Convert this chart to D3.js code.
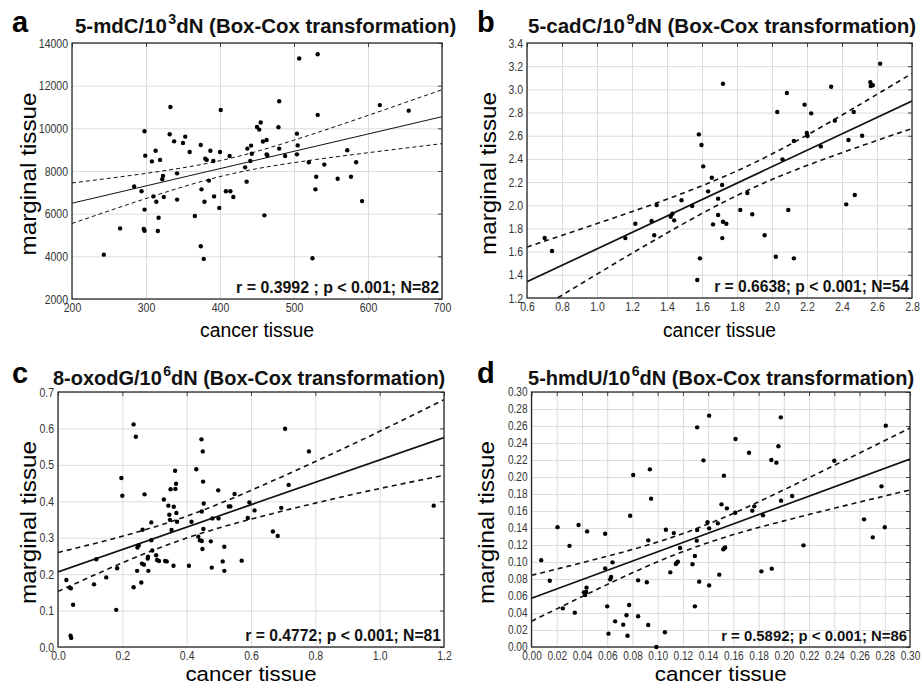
<!DOCTYPE html>
<html><head><meta charset="utf-8">
<script src="https://cdn.jsdelivr.net/npm/d3@7"></script>
<style>body{margin:0;background:#fff} svg{display:block}</style>
</head><body>
<svg id="chart" width="922" height="688"></svg>
<script>
// ---------- DATA ----------
// [cancer tissue, marginal tissue]
const aPoints = [[243,4080],[265,5310],[284,7270],[294,7050],[298,9860],[299,8720],[298,6190],[297,5280],[298,5200],[308,8450],
[310,6810],[313,8950],[314,6560],[319,8520],[317,5810],[316,5190],[323,7770],[322,7610],[324,6780],[333,11000],
[332,9720],[338,9390],[342,7890],[342,6660],[350,9310],[353,9610],[359,8890],[366,5890],[374,9220],[375,7140],
[374,4470],[378,3880],[379,6560],[380,8580],[382,8520],[385,7550],[387,8950],[391,8470],[392,6810],[399,6270],
[400,8890],[401,10860],[408,7050],[413,8700],[414,7050],[418,6780],[434,8170],[436,7500],[437,9050],[442,9190],
[443,8810],[441,8470],[450,10060],[453,9940],[455,10270],[458,9380],[463,9450],[463,8780],[464,8730],[460,5920],
[480,11270],[479,10050],[480,9050],[488,8700],[504,9750],[505,9200],[504,8780],[507,13270],[532,13470],[532,10630],
[520,8410],[530,7730],[529,7140],[525,3910],[541,8300],[559,7640],[572,8970],[577,7730],[584,8410],[592,6590],
[616,11090],[655,10830]];
const bPoints = [[0.701,1.718],[0.743,1.605],[1.162,1.717],[1.219,1.841],[1.312,1.864],[1.327,1.741],[1.341,2.002],[1.421,1.900],[1.431,1.927],[1.441,1.870],
[1.483,2.043],[1.544,1.994],[1.582,2.612],[1.597,2.520],[1.607,2.336],[1.635,2.120],[1.588,1.542],[1.573,1.355],[1.720,3.049],[1.656,2.238],
[1.715,2.175],[1.692,2.057],[1.692,1.916],[1.663,1.835],[1.720,1.858],[1.739,1.841],[1.716,1.717],[1.819,1.959],[1.859,2.106],[1.887,1.922],
[1.958,1.741],[2.022,1.556],[2.030,2.805],[2.060,2.396],[2.085,2.969],[2.093,1.959],[2.125,1.542],[2.125,2.554],[2.186,2.868],[2.199,2.623],
[2.203,2.598],[2.224,2.793],[2.279,2.508],[2.338,3.023],[2.359,2.730],[2.424,2.008],[2.437,2.563],[2.467,2.805],[2.473,2.089],[2.515,2.600],
[2.562,3.061],[2.564,3.029],[2.576,3.035],[2.618,3.222]];
const cPoints = [[0.026,0.184],[0.036,0.163],[0.040,0.161],[0.047,0.116],[0.039,0.031],[0.041,0.025],[0.112,0.172],[0.119,0.241],[0.150,0.191],[0.181,0.102],
[0.184,0.216],[0.197,0.464],[0.200,0.415],[0.235,0.611],[0.242,0.577],[0.235,0.164],[0.246,0.209],[0.247,0.273],[0.251,0.279],[0.259,0.177],
[0.261,0.229],[0.263,0.322],[0.267,0.226],[0.269,0.419],[0.279,0.243],[0.280,0.248],[0.281,0.209],[0.290,0.342],[0.290,0.293],[0.293,0.265],
[0.305,0.252],[0.308,0.239],[0.314,0.236],[0.329,0.405],[0.333,0.236],[0.338,0.235],[0.343,0.388],[0.346,0.363],[0.348,0.349],[0.350,0.433],
[0.353,0.321],[0.360,0.385],[0.359,0.223],[0.364,0.484],[0.365,0.434],[0.367,0.448],[0.368,0.368],[0.370,0.344],[0.407,0.223],[0.415,0.344],
[0.430,0.488],[0.436,0.303],[0.441,0.293],[0.446,0.570],[0.447,0.291],[0.447,0.372],[0.449,0.269],[0.450,0.537],[0.451,0.454],[0.452,0.324],
[0.453,0.394],[0.475,0.290],[0.478,0.218],[0.480,0.353],[0.498,0.430],[0.499,0.353],[0.512,0.235],[0.517,0.275],[0.517,0.209],[0.531,0.386],
[0.536,0.386],[0.549,0.420],[0.571,0.237],[0.590,0.354],[0.595,0.397],[0.611,0.375],[0.668,0.317],[0.683,0.305],[0.694,0.382],[0.706,0.599],
[0.717,0.445],[0.780,0.537],[1.168,0.388]];
const dPoints = [[0.0077,0.102],[0.0145,0.078],[0.0206,0.141],[0.0248,0.0455],[0.0301,0.119],[0.0343,0.0404],[0.0373,0.1435],[0.0415,0.0643],[0.0425,0.0612],[0.0433,0.0647],
[0.0436,0.0698],[0.0441,0.136],[0.0584,0.1333],[0.0584,0.0925],[0.0600,0.0478],[0.0610,0.0157],[0.0623,0.0796],[0.0631,0.0824],[0.0642,0.0996],[0.0663,0.0302],
[0.0727,0.0263],[0.0753,0.0373],[0.0761,0.0133],[0.0774,0.0494],[0.0782,0.1545],[0.0806,0.2024],[0.0845,0.0784],[0.0845,0.0361],[0.0914,0.0761],[0.0925,0.1255],
[0.0925,0.0259],[0.0938,0.209],[0.0948,0.1745],[0.0990,0.0],[0.1057,0.0173],[0.1065,0.138],[0.1100,0.0878],[0.1128,0.134],[0.1144,0.0976],[0.1152,0.0992],
[0.1160,0.1004],[0.1178,0.1165],[0.1276,0.0973],[0.1295,0.107],[0.1295,0.0478],[0.1313,0.1376],[0.1310,0.1251],[0.1313,0.2584],[0.1329,0.0769],[0.1363,0.2196],
[0.1395,0.1467],[0.1408,0.1396],[0.1408,0.0725],[0.1408,0.2722],[0.1488,0.0851],[0.1506,0.1678],[0.1520,0.1149],[0.1525,0.2016],[0.1530,0.1165],[0.1535,0.117],
[0.1549,0.1631],[0.1477,0.1455],[0.1617,0.2447],[0.1615,0.158],[0.1724,0.2286],[0.1750,0.1604],[0.1766,0.1655],[0.1822,0.089],[0.1835,0.1549],[0.1904,0.0922],
[0.1901,0.220],[0.1941,0.2169],[0.1957,0.2361],[0.1976,0.2702],[0.1978,0.1722],[0.2066,0.1776],[0.2156,0.1196],[0.2400,0.2192],[0.2636,0.1502],[0.2705,0.129],
[0.2774,0.189],[0.2800,0.1408],[0.2808,0.2604]];

// regression lines and confidence bands
const aLineX = [200,700], aLineY = [6490,10545];
const aBandX = [200,250,300,350,400,450,500,550,600,650,700];
const aUpper = [7440,7658,7889,8152,8482,8921,9447,10016,10604,11205,11809];
const aLower = [5540,6132,6711,7258,7738,8109,8393,8634,8856,9071,9281];
const bLineX = [0.6,2.8], bLineY = [1.34,2.90];
const bBandX = [0.6,1.0,1.4,1.8,2.2,2.6,2.8];
const bUpper = [1.640,1.842,2.053,2.297,2.605,2.957,3.138];
const bLower = [1.040,1.406,1.761,2.085,2.343,2.559,2.662];
const cLineX = [0,1.2], cLineY = [0.206,0.575];
const cBandX = [0,0.2,0.4,0.6,0.8,1.0,1.2];
const cUpper = [0.2595,0.304,0.359,0.430,0.509,0.592,0.679];
const cLower = [0.1525,0.231,0.299,0.351,0.395,0.435,0.471];
const dLineX = [0,0.3], dLineY = [0.0573,0.2212];
const dBandX = [0,0.05,0.10,0.15,0.20,0.25,0.30];
const dUpper = [0.0843,0.1029,0.1235,0.1508,0.1849,0.2209,0.2576];
const dLower = [0.0303,0.0664,0.1003,0.1276,0.1484,0.1669,0.1848];

// tick labels
const aXTicks = [200,300,400,500,600,700];
const aYTicks = [2000,4000,6000,8000,10000,12000,14000];
const bXTicks = [0.6,0.8,1.0,1.2,1.4,1.6,1.8,2.0,2.2,2.4,2.6,2.8];
const bYTicks = [1.2,1.4,1.6,1.8,2.0,2.2,2.4,2.6,2.8,3.0,3.2,3.4];
const cXTicks = [0.0,0.2,0.4,0.6,0.8,1.0,1.2];
const cYTicks = [0.0,0.1,0.2,0.3,0.4,0.5,0.6,0.7];
const dXTicks = [0.00,0.02,0.04,0.06,0.08,0.10,0.12,0.14,0.16,0.18,0.20,0.22,0.24,0.26,0.28,0.30];
const dYTicks = [0.00,0.02,0.04,0.06,0.08,0.10,0.12,0.14,0.16,0.18,0.20,0.22,0.24,0.26,0.28,0.30];

// texts
const titles = [["5-mdC/10","3","dN (Box-Cox transformation)"],["5-cadC/10","9","dN (Box-Cox transformation)"],
                ["8-oxodG/10","6","dN (Box-Cox transformation)"],["5-hmdU/10","6","dN (Box-Cox transformation)"]];
const stats = ["r = 0.3992 ; p < 0.001; N=82","r = 0.6638; p < 0.001; N=54","r = 0.4772; p < 0.001; N=81","r = 0.5892; p < 0.001; N=86"];
const letters = ["a","b","c","d"];
const xTitle = "cancer tissue", yTitle = "marginal tissue";

// ---------- LAYOUT ----------
const SANS = "'Liberation Sans', Arial, Helvetica, sans-serif";
const svg = d3.select("#chart");
const defs = svg.append("defs");

const panels = [
 {pts:aPoints, lx:aLineX, ly:aLineY, bx:aBandX, up:aUpper, lo:aLower, xt:aXTicks, yt:aYTicks, fx:d3.format("d"), fy:d3.format("d"),
  L:72, R:442, T:43, B:299, thin:true, titleX:75, titleW:380, titleY:33, letterX:12, letterY:32, yLabX:36, xLabY:337, xLabW:114, xLabFs:20, tickFs:12.5},
 {pts:bPoints, lx:bLineX, ly:bLineY, bx:bBandX, up:bUpper, lo:bLower, xt:bXTicks, yt:bYTicks, fx:d3.format(".1f"), fy:d3.format(".1f"),
  L:527, R:912, T:43, B:298, thin:false, titleX:528, titleW:387, titleY:33, letterX:477, letterY:32, yLabX:496, xLabY:337, xLabW:113, xLabFs:20, tickFs:12.5},
 {pts:cPoints, lx:cLineX, ly:cLineY, bx:cBandX, up:cUpper, lo:cLower, xt:cXTicks, yt:cYTicks, fx:d3.format(".1f"), fy:d3.format(".1f"),
  L:58, R:444, T:392, B:647, thin:false, titleX:53, titleW:391, titleY:385, letterX:12, letterY:383, yLabX:36, xLabY:681, xLabW:131, xLabFs:20.5, tickFs:12.5},
 {pts:dPoints, lx:dLineX, ly:dLineY, bx:dBandX, up:dUpper, lo:dLower, xt:dXTicks, yt:dYTicks, fx:d3.format(".2f"), fy:d3.format(".2f"),
  L:531.5, R:910, T:392, B:647, thin:false, titleX:528, titleW:385, titleY:385, letterX:477, letterY:383, yLabX:494, xLabY:681, xLabW:132, xLabFs:20.5, tickFs:12}
];

function fitWidth(sel, target){
  const fs = parseFloat(sel.attr("font-size"));
  const w = sel.node().getComputedTextLength();
  if (w > 0) sel.attr("font-size", (fs*target/w).toFixed(2));
}
// emulate a condensed face by compressing glyphs horizontally
function condense(sel, ratio){
  sel.each(function(){
    const w = this.getComputedTextLength();
    d3.select(this).attr("textLength", (w*ratio).toFixed(2)).attr("lengthAdjust","spacingAndGlyphs");
  });
}

panels.forEach((p,i) => {
  const x = d3.scaleLinear().domain([p.xt[0], p.xt[p.xt.length-1]]).range([p.L, p.R]);
  const y = d3.scaleLinear().domain([p.yt[0], p.yt[p.yt.length-1]]).range([p.B, p.T]);
  const g = svg.append("g");
  const clipId = "clip" + i;
  defs.append("clipPath").attr("id", clipId).append("rect")
    .attr("x", p.L).attr("y", p.T).attr("width", p.R-p.L).attr("height", p.B-p.T);

  // grid
  const gx = g.append("g").attr("transform",`translate(0,${p.B})`)
    .call(d3.axisBottom(x).tickValues(p.xt).tickSize(-(p.B-p.T)).tickFormat(""));
  const gy = g.append("g").attr("transform",`translate(${p.L},0)`)
    .call(d3.axisLeft(y).tickValues(p.yt).tickSize(-(p.R-p.L)).tickFormat(""));
  [gx,gy].forEach(a => { a.select(".domain").remove(); a.selectAll("line").attr("stroke","#dcdcdc").attr("stroke-width",1); });

  // inner ticks on top/right
  const tt = g.append("g").attr("transform",`translate(0,${p.T})`).call(d3.axisTop(x).tickValues(p.xt).tickSize(-4).tickFormat(""));
  const tr = g.append("g").attr("transform",`translate(${p.R},0)`).call(d3.axisRight(y).tickValues(p.yt).tickSize(-4).tickFormat(""));
  [tt,tr].forEach(a => { a.select(".domain").remove(); a.selectAll("line").attr("stroke","#444"); });

  // tick labels
  const lx = g.append("g").attr("transform",`translate(0,${p.B})`)
    .call(d3.axisBottom(x).tickValues(p.xt).tickSize(0).tickPadding(4).tickFormat(p.fx));
  const ly = g.append("g").attr("transform",`translate(${p.L},0)`)
    .call(d3.axisLeft(y).tickValues(p.yt).tickSize(0).tickPadding(4).tickFormat(p.fy));
  [lx,ly].forEach(a => { a.select(".domain").remove();
    a.selectAll("text").attr("font-family", SANS).attr("font-size", p.tickFs).attr("fill","#333");
    condense(a.selectAll("text"), 0.84); });

  // regression + confidence bands
  const lw = p.thin ? 1 : 1.6;
  const lg = g.append("g").attr("clip-path", `url(#${clipId})`);
  const band = d3.line().x(d => x(d[0])).y(d => y(d[1])).curve(d3.curveNatural);
  [p.up, p.lo].forEach(arr => {
    lg.append("path").datum(p.bx.map((v,k) => [v, arr[k]])).attr("d", band)
      .attr("fill","none").attr("stroke","#111").attr("stroke-width", lw)
      .attr("stroke-dasharray", p.thin ? "4,3" : "5,4");
  });
  lg.append("path").datum(p.lx.map((v,k) => [v, p.ly[k]]))
    .attr("d", d3.line().x(d => x(d[0])).y(d => y(d[1])))
    .attr("fill","none").attr("stroke","#111").attr("stroke-width", p.thin ? 1 : 1.7);

  // frame
  g.append("rect").attr("x",p.L).attr("y",p.T).attr("width",p.R-p.L).attr("height",p.B-p.T)
    .attr("fill","none").attr("stroke","#2a2a2a").attr("stroke-width",1.3);

  // points
  g.append("g").selectAll("circle").data(p.pts).join("circle")
    .attr("cx", d => x(d[0])).attr("cy", d => y(d[1])).attr("r", 2.2).attr("fill", "#000");

  // stat text
  const st = g.append("text").attr("x", p.R - 3).attr("y", p.B - 6).attr("text-anchor","end")
    .attr("font-family", SANS).attr("font-weight","bold").attr("font-size", 15).attr("fill","#111").text(stats[i]);
  fitWidth(st, i===0 ? 203 : i===1 ? 195 : i===2 ? 196 : 186);

  // title
  const t = svg.append("text").attr("x", p.titleX).attr("y", p.titleY)
    .attr("font-family", SANS).attr("font-weight","bold").attr("font-size", 18).attr("fill","#111");
  t.append("tspan").text(titles[i][0]);
  t.append("tspan").attr("font-size","0.7em").attr("dy","-0.63em").attr("dx","0.1em").text(titles[i][1]);
  t.append("tspan").attr("dy","0.441em").text(titles[i][2]);
  fitWidth(t, p.titleW);

  // panel letter
  svg.append("text").attr("x", p.letterX).attr("y", p.letterY)
    .attr("font-family", SANS).attr("font-weight","bold").attr("font-size", 29).attr("fill","#000").text(letters[i]);

  // axis titles
  svg.append("text").attr("x", (p.L+p.R)/2).attr("y", p.xLabY).attr("text-anchor","middle")
    .attr("font-family", SANS).attr("font-size", p.xLabFs).attr("fill","#000")
    .attr("textLength", p.xLabW).attr("lengthAdjust","spacingAndGlyphs").text(xTitle);
  svg.append("text").attr("transform", `translate(${p.yLabX},${(p.T+p.B)/2 + 3}) rotate(-90)`).attr("text-anchor","middle")
    .attr("font-family", SANS).attr("font-size", 22).attr("fill","#000")
    .attr("textLength", 163).attr("lengthAdjust","spacingAndGlyphs").text(yTitle);
});
</script>
</body></html>
